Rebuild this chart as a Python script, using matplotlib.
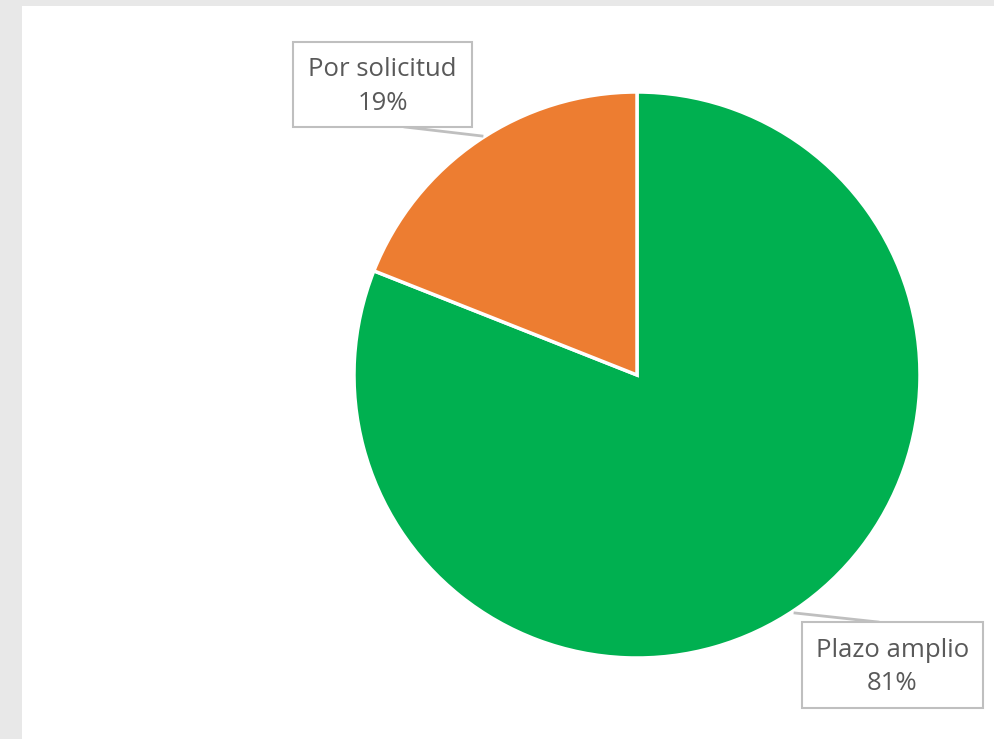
import matplotlib.pyplot as plt
from matplotlib.patches import Rectangle

# Datos
categorias = ["Plazo amplio", "Por solicitud"]
valores = [81, 19]
colores = ["#00B050", "#ED7D31"]

W, H = 995, 739
fig = plt.figure(figsize=(W / 100, H / 100), dpi=100, facecolor="#E8E8E8")
ax = fig.add_axes([0, 0, 1, 1])
ax.set_xlim(0, W)
ax.set_ylim(0, H)
ax.set_aspect("equal")
ax.axis("off")

# panel blanco
ax.add_patch(Rectangle((22, 0), W - 22, H - 6, facecolor="white", edgecolor="none", zorder=0))

cx, cy, r = 637, H - 375, 283
ax.pie(valores, colors=colores, startangle=90, counterclock=False,
       center=(cx, cy), radius=r, frame=True,
       wedgeprops=dict(edgecolor="white", linewidth=2.5))
ax.set_xlim(0, W)
ax.set_ylim(0, H)
ax.axis("off")

# etiquetas con recuadro (x0, y0 arriba, ancho, alto en píxeles)
cajas = {
    "Por solicitud": (293, 42, 179, 85, [(405, 127), (482, 136)]),
    "Plazo amplio": (802, 622, 181, 86, [(795, 613), (878, 622)]),
}
for nombre, val in zip(categorias, valores):
    x0, y0, w, h, guia = cajas[nombre]
    (ax1, ay1), (ax2, ay2) = guia
    ax.plot([ax1, ax2], [H - ay1, H - ay2], color="#BFBFBF", lw=2, zorder=3)
    ax.add_patch(Rectangle((x0, H - y0 - h), w, h, facecolor="white",
                           edgecolor="#BFBFBF", lw=1.5, zorder=4))
    ax.text(x0 + w / 2, H - y0 - h / 2 - 2, f"{nombre}\n{val}%", ha="center", va="center",
            fontsize=18.5, color="#595959", family="Open Sans", linespacing=1.45, zorder=5)

fig.savefig("out.png", dpi=100, facecolor=fig.get_facecolor())
